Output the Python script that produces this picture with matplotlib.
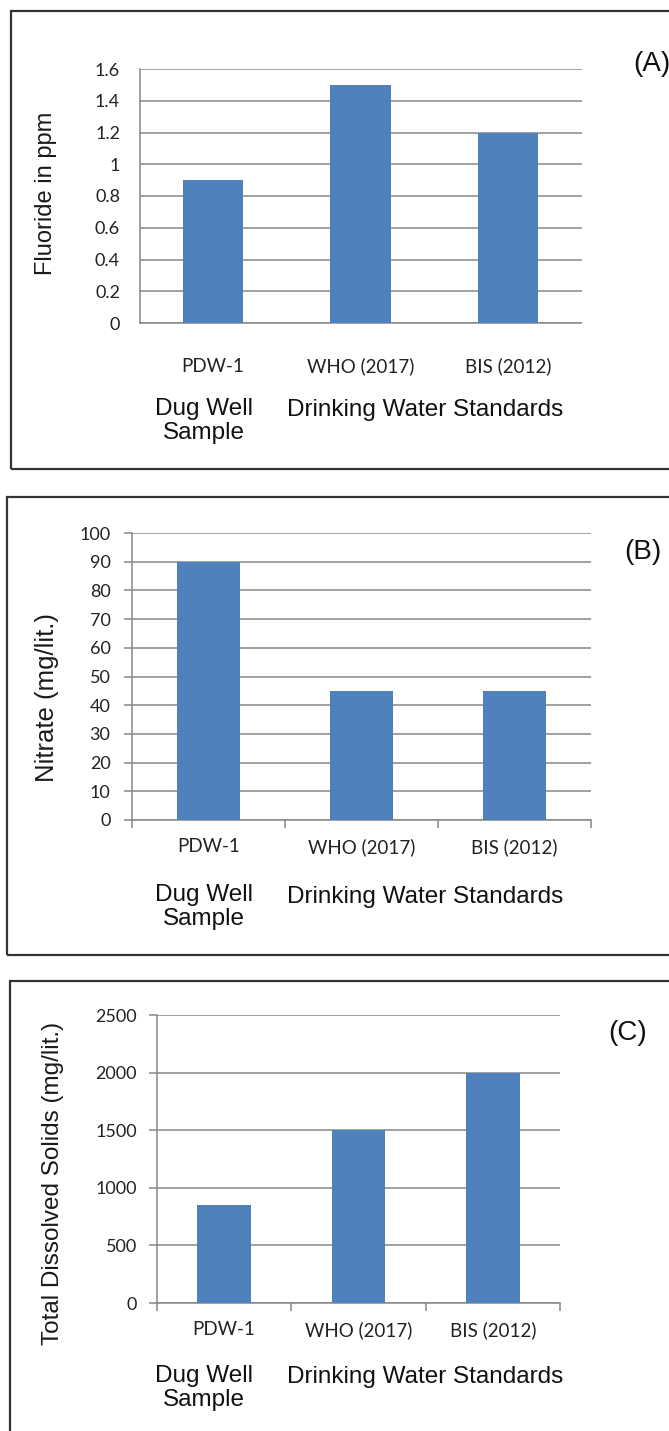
import numpy as np
import matplotlib.pyplot as plt
from matplotlib.patches import Rectangle
from matplotlib.ticker import FixedLocator, NullFormatter

categories = ['PDW-1', 'WHO (2017)', 'BIS (2012)']
fluoride = [0.9, 1.5, 1.2]
nitrate = [90, 45, 45]
tds = [850, 1500, 2000]

W, H = 669, 1431
fig = plt.figure(figsize=(W / 100, H / 100), dpi=100)

bar_color = '#4F81BD'
grid_color = '#878787'
tick_font = ['Lato', 'DejaVu Sans']
label_font = ['Liberation Sans', 'DejaVu Sans']


def fx(px):
    return px / W


def fy(py):
    return 1 - py / H


def panel(values, yticks, ylabel, tag, box, axbox, ylab_xy, ylab_size, tag_xy,
          dug_y, stand_y, xticks_marks, ypad, xpad, width=0.41):
    # outer frame
    x0, y0, x1, y1 = box
    fig.add_artist(Rectangle((fx(x0), fy(y1)), fx(x1) - fx(x0), fy(y0) - fy(y1),
                             transform=fig.transFigure, fill=False,
                             edgecolor='#333333', linewidth=1.6))
    l, t, r, b = axbox
    ax = fig.add_axes([fx(l), fy(b), fx(r) - fx(l), fy(t) - fy(b)])
    x = np.arange(len(values))
    ax.bar(x, values, width=width, color=bar_color, zorder=3)
    ax.set_xlim(-0.5, len(values) - 0.5)
    ax.set_ylim(yticks[0], yticks[-1])
    ax.set_yticks(yticks)
    ax.set_yticklabels([('%g' % v) for v in yticks], fontsize=13,
                       family=tick_font, color='#222222')
    ax.yaxis.grid(True, color=grid_color, linewidth=1.1)
    ax.set_axisbelow(True)
    for s in ['top', 'right']:
        ax.spines[s].set_visible(False)
    for s in ['left', 'bottom']:
        ax.spines[s].set_color(grid_color)
        ax.spines[s].set_linewidth(1.1)
    # category labels centered, boundary tick marks like Excel
    ax.xaxis.set_major_locator(FixedLocator(np.arange(-0.5, len(values), 1.0)))
    ax.xaxis.set_major_formatter(NullFormatter())
    ax.xaxis.set_minor_locator(FixedLocator(x))
    ax.set_xticklabels(categories, minor=True, fontsize=13.5, family=tick_font,
                       color='#222222')
    ax.tick_params(axis='x', which='minor', length=0, pad=xpad)
    tl = 5.5 if xticks_marks else 0
    ax.tick_params(axis='x', which='major', length=tl, color=grid_color, width=1.1)
    ax.tick_params(axis='y', length=tl, color=grid_color, width=1.1, pad=ypad)

    fig.text(fx(ylab_xy[0]), fy(ylab_xy[1]), ylabel, rotation=90, ha='center',
             va='center', fontsize=ylab_size, family=label_font, color='#1a1a1a')
    fig.text(fx(tag_xy[0]), fy(tag_xy[1]), tag, ha='center', va='center',
             fontsize=20, family=label_font, color='#111111')
    fig.text(fx(204), fy(dug_y), 'Dug Well\nSample', ha='center', va='center',
             fontsize=17.5, family=label_font, color='#111111', linespacing=1.12)
    fig.text(fx(425), fy(stand_y), 'Drinking Water Standards', ha='center',
             va='center', fontsize=17.5, family=label_font, color='#111111')
    return ax


# (A) Fluoride
panel(fluoride, np.round(np.arange(0, 1.61, 0.2), 1), 'Fluoride in ppm', '(A)',
      box=(11, 11, 700, 469), axbox=(139.5, 69, 581.5, 323),
      ylab_xy=(46, 193), ylab_size=17, tag_xy=(652, 64),
      dug_y=421, stand_y=410, xticks_marks=False, ypad=14, xpad=25)

# (B) Nitrate
panel(nitrate, np.arange(0, 101, 10), 'Nitrate (mg/lit.)', '(B)',
      box=(7, 497, 700, 955), axbox=(132, 533, 591, 820),
      ylab_xy=(47, 697), ylab_size=18.5, tag_xy=(643, 552),
      dug_y=907, stand_y=897, xticks_marks=True, ypad=10, xpad=13)

# (C) TDS
panel(tds, np.arange(0, 2501, 500), 'Total Dissolved Solids (mg/lit.)', '(C)',
      box=(10, 981, 700, 1460), axbox=(157, 1015, 560, 1303),
      ylab_xy=(53, 1183), ylab_size=17.5, tag_xy=(628, 1033),
      dug_y=1388, stand_y=1377, xticks_marks=True, ypad=9, xpad=13,
      width=0.40)

fig.savefig('out.png', dpi=100)
